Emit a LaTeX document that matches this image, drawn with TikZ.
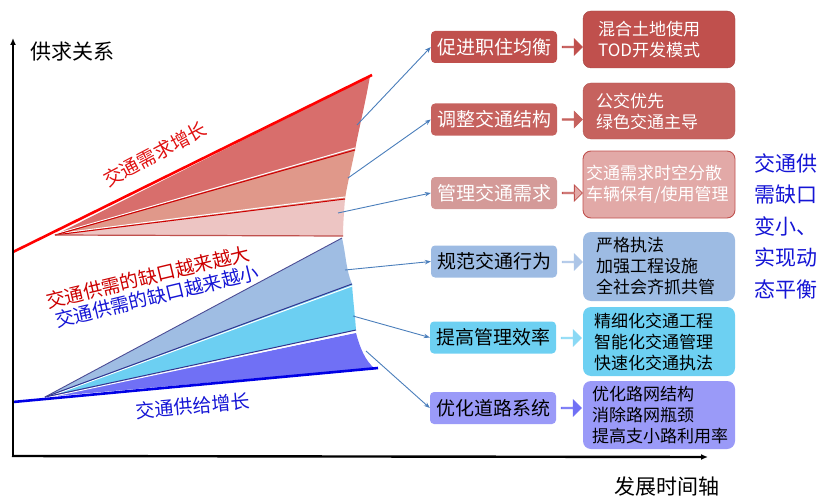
\documentclass[tikz,border=0pt]{standalone}
\usepackage{fontspec}
\setmainfont{Noto Sans CJK SC}
\usetikzlibrary{arrows.meta,shapes.arrows}
\definecolor{rA}{HTML}{C0504D}
\definecolor{rB}{HTML}{C6625E}
\definecolor{rC}{HTML}{D49A98}
\definecolor{rCb}{HTML}{E2A9A7}
\definecolor{bA}{HTML}{9DBBE3}
\definecolor{bB}{HTML}{6DD0F2}
\definecolor{bC}{HTML}{9A9AF8}
\definecolor{fan1}{HTML}{D86E6C}
\definecolor{fan2}{HTML}{E0988A}
\definecolor{fan3}{HTML}{EDC5C3}
\definecolor{fan4}{HTML}{9FBDE3}
\definecolor{fan5}{HTML}{6CCFF2}
\definecolor{fan6}{HTML}{7070F5}
\definecolor{conn}{HTML}{4A7EBB}
\definecolor{redtxt}{HTML}{E01010}
\definecolor{bluetxt}{HTML}{1515D5}
\begin{document}
\begin{tikzpicture}[x=1pt,y=-1pt,
  lbox/.style={rounded corners=4pt,minimum width=126pt,minimum height=32pt,inner sep=0pt,font=\fontsize{19}{22}\selectfont},
  rbox/.style={rounded corners=8pt,align=left,inner ysep=0pt,font=\fontsize{17}{21}\selectfont},
  conn/.style={draw=conn,line width=0.9pt,-{Stealth[length=6pt,width=4.5pt]}},
  barrow/.style={single arrow,minimum height=20pt,minimum width=16pt,single arrow head extend=4pt,inner sep=0pt,line width=0.8pt}]
\useasboundingbox (0,0) rectangle (840,500);
% red fan
\fill[fan1] (55,235) -- (370,76) .. controls (365,105) and (359,128) .. (355,150) -- cycle;
\fill[fan2] (55,235) -- (355,150) .. controls (351,170) and (347,185) .. (345,199) -- cycle;
\fill[fan3] (55,235) -- (345,199) .. controls (344,212) and (343,225) .. (343,236) -- cycle;
\draw[white,line width=1pt] (55,234) -- (355,148);
\draw[white,line width=1pt] (55,234) -- (345,197);
\draw[red!80!black,line width=1pt] (55,235) -- (355,150);
\draw[red!80!black,line width=1pt] (55,235) -- (345,199);
\draw[rA,line width=1.2pt] (55,235) -- (343,236);
\draw[red,line width=2.6pt] (13,252) -- (372,75);
% blue fan
\fill[fan4] (45,397) -- (342,238) .. controls (346,255) and (346,270) .. (352,284) -- cycle;
\fill[fan5] (45,397) -- (352,284) .. controls (353,300) and (355,315) .. (356,330) -- cycle;
\fill[fan6] (45,397) -- (356,333) .. controls (360,348) and (365,360) .. (374,368) -- cycle;
\draw[white,line width=1pt] (45,398) -- (352,286);
\draw[white,line width=1pt] (45,398) -- (356,332);
\draw[black!40!blue!60!gray,line width=1pt] (45,397) -- (352,284);
\draw[black!40!blue!60!gray,line width=1pt] (45,397) -- (356,330);
\draw[black!30!blue!40!gray,line width=0.9pt] (45,397) -- (342,238);
\draw[blue!90!black,line width=2.6pt] (13,402) -- (378,368);
% axes
\draw[line width=2.4pt,-{Latex[length=7pt,width=6pt]}] (13,456) -- (13,38);
\draw[line width=2.4pt,-{Latex[length=7pt,width=6pt]}] (12,456) -- (708,457);
\node[font=\fontsize{21}{24}\selectfont] (ylab) at (72,52) {供求关系};
\node[font=\fontsize{21}{24}\selectfont] (xlab) at (667,487) {发展时间轴};
% fan labels
\node[text=redtxt,rotate=28,font=\fontsize{19}{22}\selectfont] (dem) at (155,154) {交通需求增长};
\node[text=red!80!black,rotate=13.5,font=\fontsize{19}{22}\selectfont] (gapbig) at (148,277) {交通供需的缺口越来越大};
\node[text=bluetxt,rotate=13.5,font=\fontsize{19}{22}\selectfont] (gapsmall) at (157,296) {交通供需的缺口越来越小};
\node[text=bluetxt,rotate=5,font=\fontsize{19}{22}\selectfont] (sup) at (193,406) {交通供给增长};
% left boxes
\node[lbox,fill=rA,text=white] (l1) at (494,47) {促进职住均衡};
\node[lbox,fill=rB,text=white] (l2) at (494,119.5) {调整交通结构};
\node[lbox,fill=rC,text=white] (l3) at (494,193) {管理交通需求};
\node[lbox,fill=bA] (l4) at (494,261.5) {规范交通行为};
\node[lbox,fill=bB] (l5) at (493,337.5) {提高管理效率};
\node[lbox,fill=bC] (l6) at (493,408) {优化道路系统};
% right boxes
\node[rbox,fill=rA,draw=rA!85!black,text=white,minimum height=57pt,text width=122pt,inner xsep=15pt] (r1) at (659,39.5) {混合土地使用\\TOD开发模式};
\node[rbox,fill=rB,draw=rB!90!black,text=white,minimum height=56pt,text width=126pt,inner xsep=13pt] (r2) at (659,111) {公交优先\\绿色交通主导};
\node[rbox,fill=rCb,draw=rA,line width=0.9pt,text=white,minimum height=67pt,text width=146pt,inner xsep=3pt] (r3) at (659,184.5) {交通需求时空分散\\车辆保有/使用管理};
\node[rbox,fill=bA,minimum height=69pt,text width=126pt,inner xsep=13pt] (r4) at (659,266.5) {严格执法\\加强工程设施\\全社会齐抓共管};
\node[rbox,fill=bB,minimum height=69pt,text width=130pt,inner xsep=11pt] (r5) at (659,341.5) {精细化交通工程\\智能化交通管理\\快速化交通执法};
\node[rbox,fill=bC,minimum height=68pt,text width=134pt,inner xsep=9pt] (r6) at (659,415) {优化路网结构\\消除路网瓶颈\\提高支小路利用率};
% block arrows
\node[barrow,fill=rA,draw=rA] (a1) at (572,47) {};
\node[barrow,fill=rB,draw=rB] (a2) at (572,119.5) {};
\node[barrow,fill=rCb,draw=rA] (a3) at (572,193) {};
\node[barrow,fill=bA!85!white,draw=bA!85!white] (a4) at (572,262) {};
\node[barrow,fill=bB!80!white,draw=bB!80!white] (a5) at (571,338) {};
\node[barrow,fill=fan6,draw=fan6] (a6) at (571,408) {};
% connectors
\coordinate (c1) at (357,125);
\coordinate (c2) at (348,178);
\coordinate (c3) at (338,213);
\coordinate (c4) at (345,270);
\coordinate (c5) at (353,316);
\coordinate (c6) at (366,351);
\draw[conn] (c1) -- (l1.west);
\draw[conn] (c2) -- (l2.west);
\draw[conn] (c3) -- (l3.west);
\draw[conn] (c4) -- (l4.west);
\draw[conn] (c5) -- (l5.west);
\draw[conn] (c6) -- (l6.west);
% conclusion
\node[text=bluetxt,font=\fontsize{21}{31.5}\selectfont,align=left,anchor=north west,inner sep=0pt] (concl) at (754,153) {交通供\\需缺口\\变小、\\实现动\\态平衡};
\end{tikzpicture}
\end{document}
